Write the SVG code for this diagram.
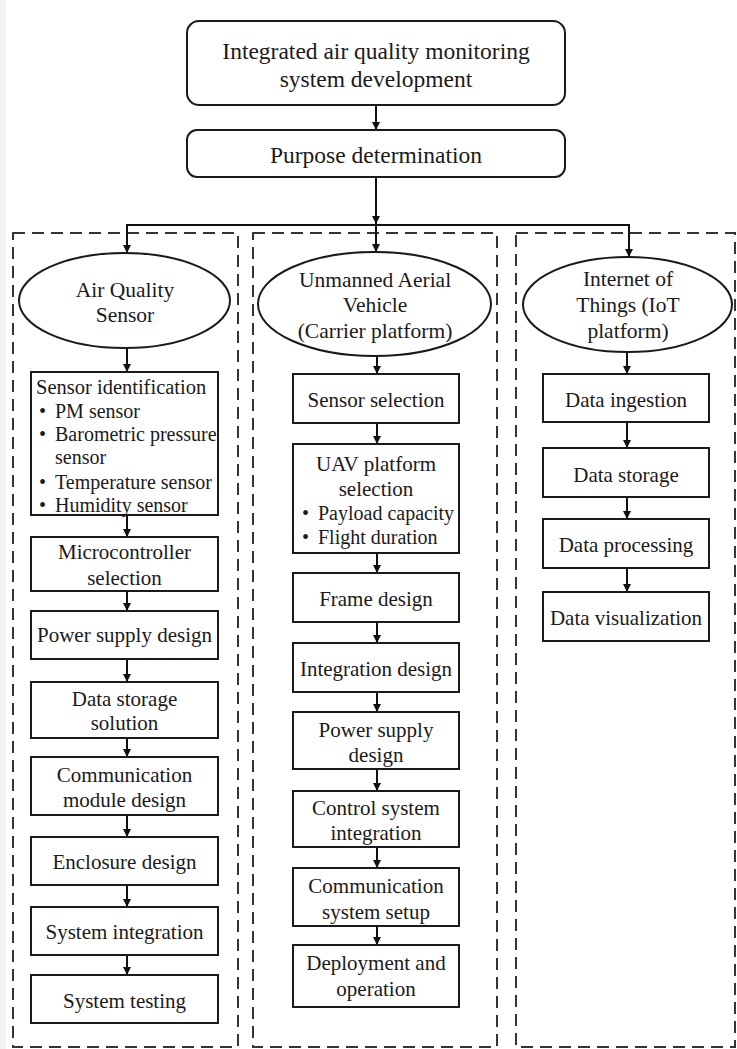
<svg xmlns="http://www.w3.org/2000/svg" width="737" height="1049" viewBox="0 0 737 1049">
<style>
.bg{fill:#ffffff}
.box{fill:#ffffff;stroke:#1a1a1a;stroke-width:2}
.dash{fill:none;stroke:#333333;stroke-width:2;stroke-dasharray:12 7}
.conn{fill:none;stroke:#111111;stroke-width:2}
text{font-family:"Liberation Serif","Times New Roman",serif;fill:#1a1a1a}
.t{font-size:21px;text-anchor:middle}
.tt{font-size:23.5px;text-anchor:middle}
.te{font-size:21.5px;text-anchor:middle}
.tb{font-size:20px}
</style>
<defs>
<marker id="arr" viewBox="0 0 10 10" refX="10" refY="5" markerWidth="8" markerHeight="9" markerUnits="userSpaceOnUse" orient="auto">
<path d="M0,0 L10,5 L0,10 z" fill="#111111"/>
</marker>
</defs>
<rect class="bg" x="0" y="0" width="737" height="1049"/>
<rect x="0" y="0" width="6" height="1049" fill="#f2f2f2"/>

<g id="groups">
<rect id="group-aqs" class="dash" x="13" y="233" width="225" height="814"/>
<rect id="group-uav" class="dash" x="253" y="233" width="244" height="814"/>
<rect id="group-iot" class="dash" x="516" y="233" width="219" height="814"/>
</g>

<g id="connectors">
<path class="conn" d="M376,105 V130" marker-end="url(#arr)"/>
<path class="conn" d="M376,177 V224" marker-end="url(#arr)"/>
<path class="conn" d="M127,252 V225 H629 V256"/>
<path class="conn" d="M127,225 V253" marker-end="url(#arr)"/>
<path class="conn" d="M376,225 V252" marker-end="url(#arr)"/>
<path class="conn" d="M629,225 V257" marker-end="url(#arr)"/>
<path class="conn" d="M127,348 V372" marker-end="url(#arr)"/>
<path class="conn" d="M127,515 V537" marker-end="url(#arr)"/>
<path class="conn" d="M127,591 V611" marker-end="url(#arr)"/>
<path class="conn" d="M127,659 V682" marker-end="url(#arr)"/>
<path class="conn" d="M127,738 V757" marker-end="url(#arr)"/>
<path class="conn" d="M127,815 V837" marker-end="url(#arr)"/>
<path class="conn" d="M127,885 V907" marker-end="url(#arr)"/>
<path class="conn" d="M127,955 V975" marker-end="url(#arr)"/>
<path class="conn" d="M377,356 V374" marker-end="url(#arr)"/>
<path class="conn" d="M377,423 V444" marker-end="url(#arr)"/>
<path class="conn" d="M377,553 V573" marker-end="url(#arr)"/>
<path class="conn" d="M377,622 V643" marker-end="url(#arr)"/>
<path class="conn" d="M377,692 V712" marker-end="url(#arr)"/>
<path class="conn" d="M377,769 V791" marker-end="url(#arr)"/>
<path class="conn" d="M377,847 V868" marker-end="url(#arr)"/>
<path class="conn" d="M377,926 V945" marker-end="url(#arr)"/>
<path class="conn" d="M627,352 V374" marker-end="url(#arr)"/>
<path class="conn" d="M627,422 V448" marker-end="url(#arr)"/>
<path class="conn" d="M627,497 V519" marker-end="url(#arr)"/>
<path class="conn" d="M627,568 V592" marker-end="url(#arr)"/>
</g>

<g id="n-top">
<rect class="box" x="187" y="21" width="378" height="84" rx="12"/>
<text class="tt" x="376" y="59">Integrated air quality monitoring</text>
<text class="tt" x="376" y="87">system development</text>
</g>
<g id="n-purpose">
<rect class="box" x="187" y="130" width="378" height="47" rx="10"/>
<text class="tt" x="376" y="163">Purpose determination</text>
</g>

<g id="n-aqs">
<ellipse class="box" cx="124.5" cy="300.5" rx="105.5" ry="47.5"/>
<text class="te" x="125" y="297">Air Quality</text>
<text class="te" x="125" y="322">Sensor</text>
</g>
<g id="n-uav">
<ellipse class="box" cx="374.5" cy="304" rx="116.5" ry="52"/>
<text class="te" x="375" y="287">Unmanned Aerial</text>
<text class="te" x="375" y="312">Vehicle</text>
<text class="te" x="375" y="338">(Carrier platform)</text>
</g>
<g id="n-iot">
<ellipse class="box" cx="627.5" cy="304.5" rx="104.5" ry="47.5"/>
<text class="te" x="628" y="286">Internet of</text>
<text class="te" x="628" y="312">Things (IoT</text>
<text class="te" x="628" y="338">platform)</text>
</g>

<g id="n-sensor-identification">
<rect class="box" x="31" y="372" width="187" height="143"/>
<text x="36" y="394" style="font-size:20.5px">Sensor identification</text>
<text class="tb" x="39" y="418">•</text><text class="tb" x="55" y="418">PM sensor</text>
<text class="tb" x="39" y="441">•</text><text class="tb" x="55" y="441">Barometric pressure</text>
<text class="tb" x="55" y="464">sensor</text>
<text class="tb" x="39" y="489">•</text><text class="tb" x="55" y="489">Temperature sensor</text>
<text class="tb" x="39" y="512">•</text><text class="tb" x="55" y="512">Humidity sensor</text>
</g>
<g id="n-microcontroller">
<rect class="box" x="31" y="537" width="187" height="54"/>
<text class="t" x="124.5" y="559">Microcontroller</text>
<text class="t" x="124.5" y="585">selection</text>
</g>
<g id="n-power-aqs">
<rect class="box" x="31" y="611" width="187" height="48"/>
<text class="t" x="124.5" y="642">Power supply design</text>
</g>
<g id="n-datastorage-aqs">
<rect class="box" x="31" y="682" width="187" height="56"/>
<text class="t" x="124.5" y="706">Data storage</text>
<text class="t" x="124.5" y="730">solution</text>
</g>
<g id="n-comm-aqs">
<rect class="box" x="31" y="757" width="187" height="58"/>
<text class="t" x="124.5" y="782">Communication</text>
<text class="t" x="124.5" y="807">module design</text>
</g>
<g id="n-enclosure">
<rect class="box" x="31" y="837" width="187" height="48"/>
<text class="t" x="124.5" y="869">Enclosure design</text>
</g>
<g id="n-sysint">
<rect class="box" x="31" y="907" width="187" height="48"/>
<text class="t" x="124.5" y="939">System integration</text>
</g>
<g id="n-systest">
<rect class="box" x="31" y="975" width="187" height="48"/>
<text class="t" x="124.5" y="1008">System testing</text>
</g>

<g id="n-sensor-selection">
<rect class="box" x="293" y="374" width="166" height="49"/>
<text class="t" x="376" y="407">Sensor selection</text>
</g>
<g id="n-uav-platform">
<rect class="box" x="293" y="444" width="166" height="109"/>
<text class="t" x="376" y="471">UAV platform</text>
<text class="t" x="376" y="496">selection</text>
<text class="tb" x="302" y="520">•</text><text class="tb" x="318" y="520">Payload capacity</text>
<text class="tb" x="302" y="544">•</text><text class="tb" x="318" y="544">Flight duration</text>
</g>
<g id="n-frame">
<rect class="box" x="293" y="573" width="166" height="49"/>
<text class="t" x="376" y="606">Frame design</text>
</g>
<g id="n-integration">
<rect class="box" x="293" y="643" width="166" height="49"/>
<text class="t" x="376" y="676">Integration design</text>
</g>
<g id="n-power-uav">
<rect class="box" x="293" y="712" width="166" height="57"/>
<text class="t" x="376" y="737">Power supply</text>
<text class="t" x="376" y="762">design</text>
</g>
<g id="n-control">
<rect class="box" x="293" y="791" width="166" height="56"/>
<text class="t" x="376" y="815">Control system</text>
<text class="t" x="376" y="840">integration</text>
</g>
<g id="n-comm-uav">
<rect class="box" x="293" y="868" width="166" height="58"/>
<text class="t" x="376" y="893">Communication</text>
<text class="t" x="376" y="919">system setup</text>
</g>
<g id="n-deploy">
<rect class="box" x="293" y="945" width="166" height="62"/>
<text class="t" x="376" y="970">Deployment and</text>
<text class="t" x="376" y="996">operation</text>
</g>

<g id="n-ingestion">
<rect class="box" x="543" y="374" width="166" height="48"/>
<text class="t" x="626" y="407">Data ingestion</text>
</g>
<g id="n-storage">
<rect class="box" x="543" y="448" width="166" height="49"/>
<text class="t" x="626" y="482">Data storage</text>
</g>
<g id="n-processing">
<rect class="box" x="543" y="519" width="166" height="49"/>
<text class="t" x="626" y="552">Data processing</text>
</g>
<g id="n-visualization">
<rect class="box" x="543" y="592" width="166" height="49"/>
<text class="t" x="626" y="625">Data visualization</text>
</g>
</svg>
